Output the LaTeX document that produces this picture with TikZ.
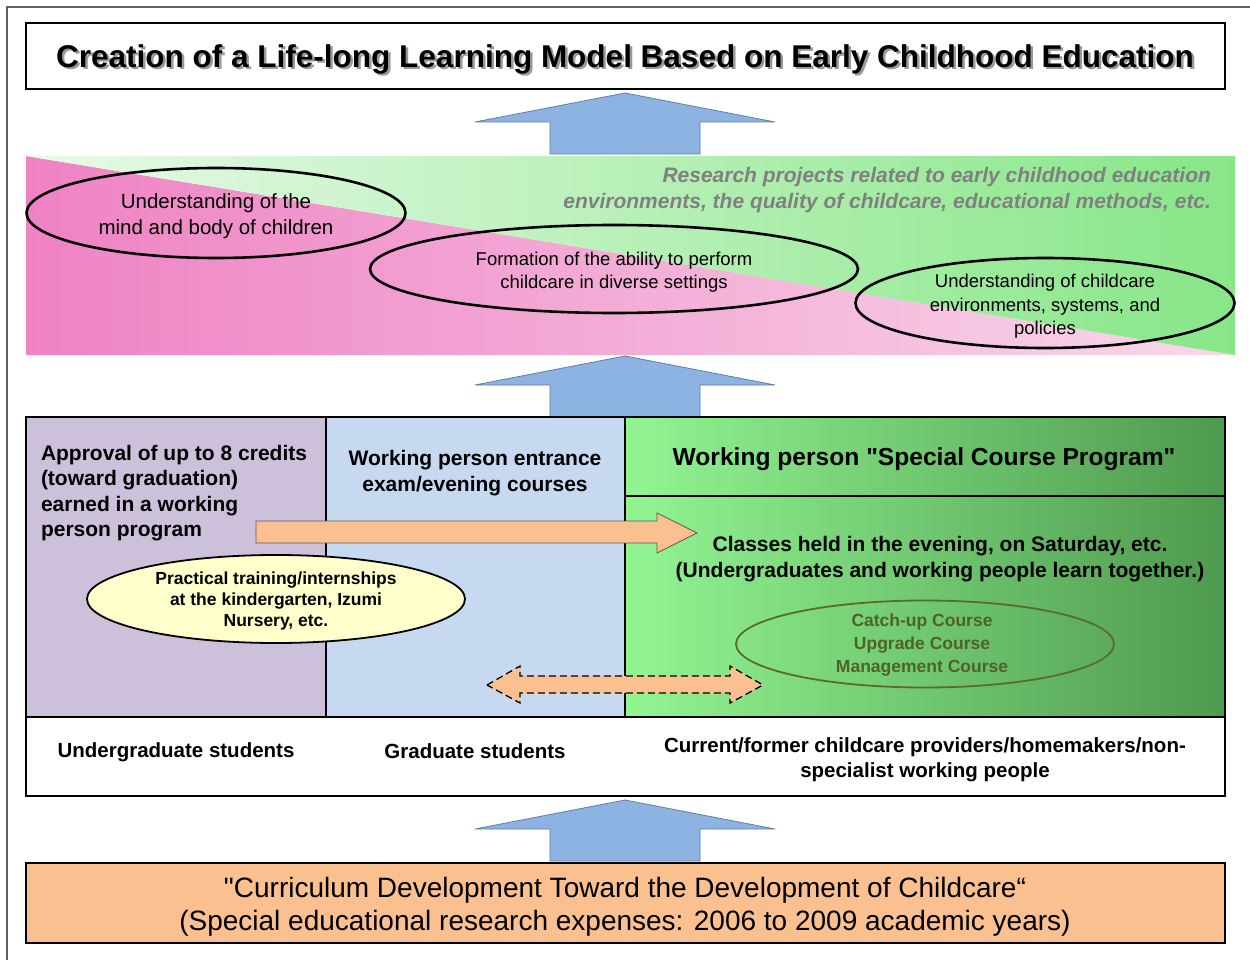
\documentclass[tikz,border=0pt]{standalone}
\usepackage{fontspec}
\setmainfont{Liberation Sans}
\newfontfamily\qfont{Liberation Sans}
\usetikzlibrary{shapes.geometric}
\definecolor{blueA}{HTML}{8DB3E2}
\definecolor{blueEdge}{HTML}{5F7FA8}
\definecolor{lav}{HTML}{CCC0DA}
\definecolor{lblue}{HTML}{C6D9F1}
\definecolor{peach}{HTML}{FAC090}
\definecolor{pinkL}{HTML}{EF82C4}
\definecolor{pinkR}{HTML}{F8D8EA}
\definecolor{greenL}{HTML}{E8FAE8}
\definecolor{greenR}{HTML}{88E688}
\definecolor{gcolL}{HTML}{92F592}
\definecolor{gcolR}{HTML}{4E9A4E}
\definecolor{olive}{HTML}{4F6228}
\definecolor{oliveEdge}{HTML}{5A6B2B}
\definecolor{ylw}{HTML}{FFFFCC}
\definecolor{resgray}{HTML}{808080}
\definecolor{framegray}{HTML}{606060}
\newcommand{\sq}{{\qfont"}}
\newcommand{\titletext}{Creation of a Life-long Learning Model Based on Early Childhood Education}
\begin{document}
\begin{tikzpicture}[x=1pt,y=-1pt,
  every node/.style={inner sep=0pt, outer sep=0pt},
  boxline/.style={draw=black, line width=2.6pt},
  blockarrow/.style={fill=blueA, draw=blueEdge, line width=0.8pt},
  bandell/.style={ellipse, draw=black, line width=2.6pt, inner sep=0pt},
  boldtxt/.style={font=\bfseries\fontsize{21}{25.4}\selectfont, align=center},
  uparrow/.pic={\draw[blockarrow,x=1pt,y=-1pt] (0,0) -- (150,29) -- (75,29) -- (75,61) -- (-75,61) -- (-75,29) -- (-150,29) -- cycle;}
]
\useasboundingbox (0,0) rectangle (1250,960);
\fill[white] (0,0) rectangle (1250,960);
\draw[framegray, line width=1.8pt] (7,960) -- (7,7) -- (1250,7);

% title
\draw[boxline, fill=white] (26,23) rectangle (1225,89);
\node (title) [font=\bfseries\fontsize{31.5}{36}\selectfont] at (625,59) {\rlap{\smash{\kern2.5pt\raisebox{-2.5pt}{\textcolor{black!40}{\titletext}}}}\titletext};

% arrow 1
\pic at (625,93) {uparrow};

% band
\shade[left color=pinkL, right color=pinkR] (26,156) -- (26,355) -- (1235,355) -- cycle;
\shade[left color=greenL, right color=greenR] (26,156) -- (1235,156) -- (1235,355) -- cycle;
\node (research) [anchor=east, text=resgray, font=\bfseries\itshape\fontsize{21}{26}\selectfont, align=right] at (1211,190) {Research projects related to early childhood education\\environments, the quality of childcare, educational methods, etc.};
\node (e1) [bandell, minimum width=379pt, minimum height=90pt] at (216,213) {};
\node [font=\fontsize{20.5}{26}\selectfont, align=center] at (216,216) {Understanding of the\\mind and body of children};
\node (e2) [bandell, minimum width=488pt, minimum height=88pt] at (614,269) {};
\node [font=\fontsize{18.5}{23}\selectfont, align=center] at (614,272) {Formation of the ability to perform\\childcare in diverse settings};
\node (e3) [bandell, minimum width=379pt, minimum height=90pt] at (1045,303) {};
\node [font=\fontsize{18.5}{23.5}\selectfont, align=center] at (1045,306.5) {Understanding of childcare\\environments, systems, and\\policies};

% arrow 2
\pic at (625,356) {uparrow};

% main columns
\fill[lav] (26,417) rectangle (326,717);
\fill[lblue] (326,417) rectangle (625,717);
\shade[left color=gcolL, right color=gcolR] (625,417) rectangle (1225,717);
\fill[white] (26,717) rectangle (1225,796);
\draw[line width=2.4pt] (326,417) -- (326,717);
\draw[line width=2.4pt] (625,417) -- (625,717);
\draw[line width=2.4pt] (625,496) -- (1225,496);
\draw[line width=2.4pt] (26,717) -- (1225,717);
\draw[boxline] (26,417) rectangle (1225,796);

\node (col1) [anchor=north west, font=\bfseries\fontsize{21}{25.4}\selectfont, align=left] at (41,445) {Approval of up to 8 credits\\(toward graduation)\\earned in a working\\person program};
\node (col2) [boldtxt] at (475,473) {Working person entrance\\exam/evening courses};
\node (col3h) [font=\bfseries\fontsize{24.6}{30}\selectfont] at (924,459.5) {Working person \sq Special Course Program\sq};
\node (col3b) [boldtxt, font=\bfseries\fontsize{21}{26}\selectfont] at (940,559) {Classes held in the evening, on Saturday, etc.\\(Undergraduates and working people learn together.)};

% orange arrow
\draw[fill=peach, draw=black!65, line width=0.8pt] (256,521) -- (657,521) -- (657,513) -- (697,533) -- (657,553) -- (657,543) -- (256,543) -- cycle;

% yellow ellipse
\node (yell) [ellipse, draw=black, line width=1.8pt, fill=ylw, minimum width=378pt, minimum height=88pt] at (276,599) {};
\node [font=\bfseries\fontsize{17.5}{21}\selectfont, align=center] at (276,601) {Practical training/internships\\at the kindergarten, Izumi\\Nursery, etc.};

% green ellipse
\node (grn) [ellipse, draw=oliveEdge, line width=1.8pt, minimum width=378pt, minimum height=87pt] at (925,644) {};
\node [text=olive, font=\bfseries\fontsize{17.5}{23}\selectfont, align=center] at (922,645) {Catch-up Course\\Upgrade Course\\Management Course};

% dashed double arrow
\draw[fill=peach, draw=black, line width=1.3pt, dash pattern=on 7pt off 4pt] (487,685) -- (520,666) -- (520,676) -- (730,676) -- (730,666) -- (763,685) -- (730,703) -- (730,693) -- (520,693) -- (520,703) -- cycle;

% row labels
\node (ug) [boldtxt, font=\bfseries\fontsize{20.5}{25}\selectfont] at (176,752) {Undergraduate students};
\node (gs) [boldtxt, font=\bfseries\fontsize{20.5}{25}\selectfont] at (475,751) {Graduate students};
\node (cur) [boldtxt, font=\bfseries\fontsize{20.5}{25}\selectfont] at (925,760) {Current/former childcare providers/homemakers/non-\\specialist working people};

% arrow 3
\pic at (625,800) {uparrow};

% bottom box
\draw[boxline, fill=peach] (26,863) rectangle (1225,943);
\node (bottom) [font=\fontsize{28}{33}\selectfont, align=center] at (625,907) {\sq Curriculum Development Toward the Development of Childcare“\\(Special educational research expenses: 2006 to 2009 academic years)};
\end{tikzpicture}
\end{document}
